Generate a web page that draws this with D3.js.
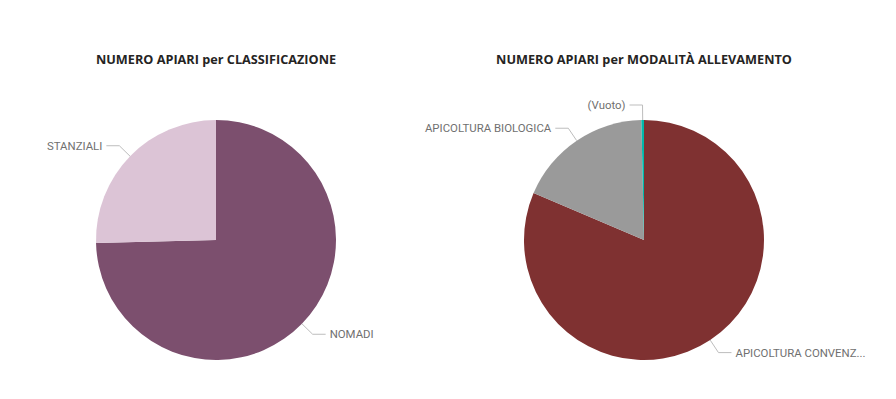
<!DOCTYPE html>
<html>
<head>
<meta charset="utf-8">
<script src="https://cdn.jsdelivr.net/npm/d3@7"></script>
<style>
  body { margin: 0; background: #fff; }
  svg { display: block; }
</style>
</head>
<body>
<div id="chart"></div>
<script>
// data (shares in %)
var classiCategories = ["NOMADI", "STANZIALI"];
var classiValues = [74.6, 25.4];
var classiColors = ["#7C4F6E", "#DCC4D6"];

var modalCategories = ["APICOLTURA CONVENZIONALE", "APICOLTURA BIOLOGICA", "(Vuoto)"];
var modalValues = [81.4, 18.25, 0.35];
var modalColors = ["#7F3131", "#9A9A9A", "#01B8AA"];

var width = 896, height = 399;
var radius = 120;

var svg = d3.select("#chart")
  .append("svg")
  .attr("width", width)
  .attr("height", height);

function drawPie(cx, cy, title, cats, vals, colors) {
  var g = svg.append("g")
    .attr("transform", "translate(" + cx + "," + cy + ")");

  // title
  g.append("text")
    .attr("x", 0)
    .attr("y", -176)
    .attr("text-anchor", "middle")
    .style("font-family", "'Open Sans', sans-serif")
    .style("font-weight", "700")
    .style("font-size", "12.7px")
    .style("fill", "#252423")
    .text(title);

  var data = cats.map(function(c, i) { return {cat: c, value: vals[i], color: colors[i]}; });

  var pie = d3.pie()
    .sort(null)
    .value(function(d) { return d.value; });

  var arc = d3.arc().innerRadius(0).outerRadius(radius);
  var arcs = pie(data);

  g.selectAll("path.slice")
    .data(arcs)
    .enter()
    .append("path")
      .attr("class", "slice")
      .attr("d", arc)
      .style("fill", function(d) { return d.data.color; });

  // leader lines + labels
  arcs.forEach(function(d) {
    var a = (d.startAngle + d.endAngle) / 2;
    var p0 = [Math.sin(a) * radius, -Math.cos(a) * radius];
    var p1 = [Math.sin(a) * (radius + 15), -Math.cos(a) * (radius + 15)];
    var dir = Math.sin(a) > 0.02 ? 1 : -1;
    var p2 = [p1[0] + dir * 13, p1[1]];

    g.append("polyline")
      .attr("points", [p0, p1, p2].map(function(p) { return p.join(","); }).join(" "))
      .style("fill", "none")
      .style("stroke", "#BDBDBD")
      .style("stroke-width", 1);

    var t = g.append("text")
      .attr("x", p2[0] + dir * 4)
      .attr("y", p2[1])
      .attr("dy", "0.35em")
      .attr("text-anchor", dir > 0 ? "start" : "end")
      .style("font-family", "Roboto, sans-serif")
      .style("font-size", "11.4px")
      .style("fill", "#707070")
      .text(d.data.cat);

    // truncate like the original when the label runs off the page
    var maxW = dir > 0 ? (width - 30 - (cx + p2[0] + 4)) : (cx + p2[0] - 4 - 10);
    var full = d.data.cat;
    var n = full.length;
    while (t.node().getComputedTextLength() > maxW && n > 1) {
      n--;
      t.text(full.slice(0, n) + "...");
    }
  });
}

drawPie(216, 240, "NUMERO APIARI per CLASSIFICAZIONE", classiCategories, classiValues, classiColors);
drawPie(644, 240, "NUMERO APIARI per MODALITÀ ALLEVAMENTO", modalCategories, modalValues, modalColors);
</script>
</body>
</html>
